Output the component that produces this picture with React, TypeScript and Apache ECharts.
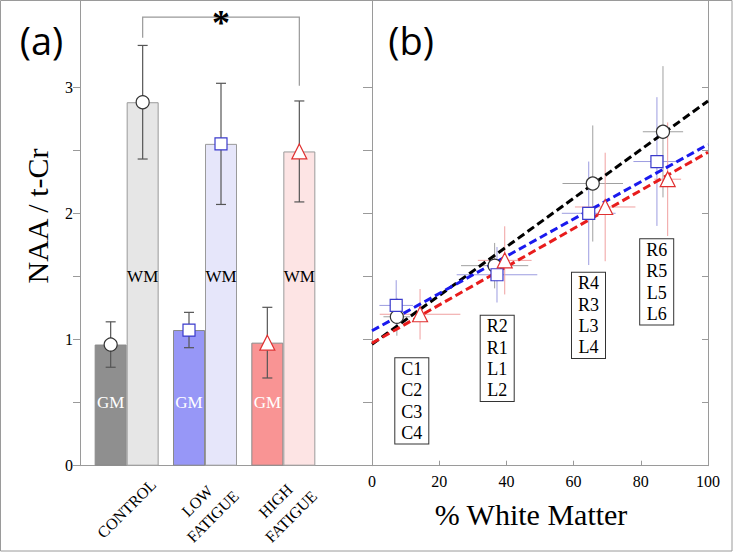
import React, { useEffect, useRef } from 'react';
import * as echarts from 'echarts';

// ---------- Panel (a) data ----------
const groups = ['CONTROL', 'LOW\nFATIGUE', 'HIGH\nFATIGUE'];
const gmMean = [0.96, 1.075, 0.975];
const gmErr = [0.18, 0.14, 0.28];
const wmMean = [2.88, 2.55, 2.49];
const wmErr = [0.45, 0.48, 0.4];
const gmColors = ['#8f8f8f', '#9797f7', '#f99494'];
const wmColors = ['#e6e6e6', '#e6e6fa', '#fde4e4'];
const gmLabelY = 0.5;
const wmLabelY = 1.5;
const bracketTop = 3.555;
const bracketLeftEnd = 3.39;
const bracketRightEnd = 3.01;

// ---------- Axis ticks ----------
const yMax = 3.69;
const yTicks = [0, 0.5, 1, 1.5, 2, 2.5, 3];
const yLabels = [0, 1, 2, 3];
const xMaxB = 100;
const xIntervalB = 20;

// ---------- Panel (b) data ----------
const ctrlX = [7.4, 36.5, 65.7, 86.6];
const ctrlXErr = [4, 10, 9, 6];
const ctrlY = [1.18, 1.585, 2.236, 2.646];
const ctrlYErr = [0.15, 0.18, 0.46, 0.52];

const lowX = [7.2, 37.2, 64.5, 84.8];
const lowXErr = [5, 12, 8, 7];
const lowY = [1.27, 1.513, 2.0, 2.41];
const lowYErr = [0.2, 0.22, 0.41, 0.51];

const highX = [14.3, 39.5, 69.4, 88.0];
const highXErr = [12, 8, 9, 4];
const highY = [1.2, 1.627, 2.05, 2.27];
const highYErr = [0.2, 0.27, 0.43, 0.45];

const ctrlFit = [[0, 0.963], [100, 2.89]];
const lowFit = [[0, 1.069], [100, 2.545]];
const highFit = [[0, 0.971], [100, 2.484]];

const boxLabels = ['C1\nC2\nC3\nC4', 'R2\nR1\nL1\nL2', 'R4\nR3\nL3\nL4', 'R6\nR5\nL5\nL6'];

// ---------- styles ----------
const AXIS = '#9a9a9a';
const SERIF = '"Liberation Serif", "Times New Roman", serif';
const SANS = '"Open Sans", "Noto Sans", sans-serif';
const markerSymbols = ['circle', 'rect', 'triangle'];
const markerSizes = [13, 12, 15];
const markerBorders = ['#333333', '#3a3acc', '#e03030'];
const errColorsB = ['#a0a0a0', '#9c9ce0', '#f0a0a0'];
const fitColors = ['#000000', '#1a1aee', '#e81c1c'];
const BAR_W = 32;
const CAT_LABEL_GAP = 43;

function buildOption() {
  const errBarA = (means: number[], errs: number[], offset: number) => ({
    type: 'custom',
    xAxisIndex: 1,
    yAxisIndex: 1,
    z: 5,
    data: means.map((m, i) => [i, m, errs[i]]),
    encode: { x: 0, y: 1 },
    renderItem: (params: any, api: any) => {
      const i = api.value(0);
      const m = api.value(1);
      const e = api.value(2);
      const t = api.coord([i, m + e]);
      const b = api.coord([i, m - e]);
      const x = t[0] + offset;
      const st = { stroke: '#555555', lineWidth: 1.2 };
      return {
        type: 'group',
        children: [
          { type: 'line', shape: { x1: x, y1: t[1], x2: x, y2: b[1] }, style: st },
          { type: 'line', shape: { x1: x - 5, y1: t[1], x2: x + 5, y2: t[1] }, style: st },
          { type: 'line', shape: { x1: x - 5, y1: b[1], x2: x + 5, y2: b[1] }, style: st },
        ],
      };
    },
  });

  const markersA = (means: number[], offset: number) => ({
    type: 'scatter',
    xAxisIndex: 1,
    yAxisIndex: 1,
    z: 6,
    symbolOffset: [offset, 0],
    data: means.map((m, i) => ({
      value: [i, m],
      symbol: markerSymbols[i],
      symbolSize: markerSizes[i],
      itemStyle: { color: '#ffffff', borderColor: markerBorders[i], borderWidth: 1.2, opacity: 1 },
    })),
  });

  const textA = (labelY: number, text: string, color: string, offset: number) => ({
    type: 'custom',
    xAxisIndex: 1,
    yAxisIndex: 1,
    z: 4,
    data: groups.map((_, i) => [i, labelY]),
    encode: { x: 0, y: 1 },
    renderItem: (params: any, api: any) => {
      const p = api.coord([api.value(0), api.value(1)]);
      return {
        type: 'text',
        x: p[0] + offset,
        y: p[1],
        style: { text, fill: color, font: `17px ${SERIF}`, align: 'center', verticalAlign: 'middle' },
      };
    },
  });

  const catLabels = {
    type: 'custom',
    xAxisIndex: 1,
    yAxisIndex: 1,
    z: 4,
    clip: false,
    data: groups.map((_, i) => [i, 0]),
    encode: { x: 0, y: 1 },
    renderItem: (params: any, api: any) => {
      const i = params.dataIndex;
      const p = api.coord([api.value(0), 0]);
      return {
        type: 'text',
        x: p[0],
        y: p[1] + CAT_LABEL_GAP,
        rotation: Math.PI / 4,
        style: {
          text: groups[i], fill: '#000', font: `16px ${SERIF}`, align: 'center',
          verticalAlign: 'middle', lineHeight: 22,
        },
      };
    },
  };

  const bracket = {
    type: 'custom',
    xAxisIndex: 1,
    yAxisIndex: 1,
    z: 4,
    data: [[0, bracketTop]],
    encode: { x: 0, y: 1 },
    renderItem: (params: any, api: any) => {
      const l = api.coord([0, bracketTop]);
      const r = api.coord([2, bracketTop]);
      const lx = l[0] + BAR_W / 2;
      const rx = r[0] + BAR_W / 2;
      const ly = api.coord([0, bracketLeftEnd])[1];
      const ry = api.coord([2, bracketRightEnd])[1];
      return {
        type: 'group',
        children: [
          {
            type: 'polyline',
            shape: { points: [[lx, ly], [lx, l[1]], [rx, r[1]], [rx, ry]] },
            style: { stroke: '#999999', lineWidth: 1.2, fill: 'none' },
          },
          {
            type: 'text',
            x: (lx + rx) / 2,
            y: l[1] + 6,
            style: { text: '*', fill: '#000', font: `bold 36px ${SERIF}`, align: 'center', verticalAlign: 'middle' },
          },
        ],
      };
    },
  };

  const errBarB = (xs: number[], xe: number[], ys: number[], ye: number[], color: string) => ({
    type: 'custom',
    xAxisIndex: 2,
    yAxisIndex: 2,
    z: 3,
    data: xs.map((x, i) => [x, ys[i], xe[i], ye[i]]),
    encode: { x: 0, y: 1 },
    renderItem: (params: any, api: any) => {
      const x = api.value(0), y = api.value(1), xr = api.value(2), yr = api.value(3);
      const l = api.coord([x - xr, y]);
      const r = api.coord([x + xr, y]);
      const t = api.coord([x, y + yr]);
      const b = api.coord([x, y - yr]);
      const st = { stroke: color, lineWidth: 1 };
      return {
        type: 'group',
        children: [
          { type: 'line', shape: { x1: l[0], y1: l[1], x2: r[0], y2: r[1] }, style: st },
          { type: 'line', shape: { x1: t[0], y1: t[1], x2: b[0], y2: b[1] }, style: st },
        ],
      };
    },
  });

  const fitLine = (pts: number[][], color: string) => ({
    type: 'line',
    xAxisIndex: 2,
    yAxisIndex: 2,
    z: 4,
    symbol: 'none',
    data: pts,
    lineStyle: { color, width: 3, type: [8, 4] },
  });

  const markersB = (xs: number[], ys: number[], k: number) => ({
    type: 'scatter',
    xAxisIndex: 2,
    yAxisIndex: 2,
    z: 6,
    symbol: markerSymbols[k],
    symbolSize: markerSizes[k],
    itemStyle: { color: '#ffffff', borderColor: markerBorders[k], borderWidth: 1.2, opacity: 1 },
    data: xs.map((x, i) => [x, ys[i]]),
  });

  const boxPos = [
    [411.8, 358.3],
    [497.2, 315.7],
    [588.5, 272.7],
    [656.7, 239.3],
  ];

  return {
    animation: false,
    backgroundColor: '#ffffff',
    grid: [
      { left: 80, top: 0, width: 290, bottom: 87.3 },
      { left: 87.5, top: 0, width: 235, bottom: 87.3 },
      { left: 372, top: 0, width: 336, bottom: 87.3 },
    ],
    xAxis: [
      {
        gridIndex: 0, type: 'value', min: 0, max: 1,
        axisLine: { show: true, lineStyle: { color: AXIS, width: 1 } },
        axisTick: { show: false }, axisLabel: { show: false }, splitLine: { show: false },
      },
      {
        gridIndex: 1, type: 'category', data: groups,
        axisLine: { show: false }, axisTick: { show: false }, splitLine: { show: false },
        axisLabel: { show: false },
      },
      {
        gridIndex: 2, type: 'value', min: 0, max: xMaxB, interval: xIntervalB,
        axisLine: { show: true, lineStyle: { color: AXIS, width: 1 } },
        axisTick: { show: true, inside: true, length: 5, lineStyle: { color: AXIS } },
        axisLabel: { color: '#000', fontFamily: SERIF, fontSize: 16, margin: 8 },
        splitLine: { show: false },
      },
    ],
    yAxis: [
      {
        gridIndex: 0, type: 'value', min: 0, max: yMax,
        axisLine: { show: true, lineStyle: { color: AXIS, width: 1 } },
        axisTick: { show: true, inside: false, length: 7, customValues: yTicks, lineStyle: { color: AXIS } },
        axisLabel: { customValues: yLabels, color: '#000', fontFamily: SERIF, fontSize: 16, margin: 7 },
        splitLine: { show: false },
      },
      { gridIndex: 1, type: 'value', min: 0, max: yMax, show: false },
      {
        gridIndex: 2, type: 'value', min: 0, max: yMax, position: 'left',
        axisLine: { show: true, lineStyle: { color: AXIS, width: 1 } },
        axisTick: { show: true, inside: false, length: 9, customValues: yTicks, lineStyle: { color: AXIS } },
        axisLabel: { show: false }, splitLine: { show: false },
      },
      {
        gridIndex: 2, type: 'value', min: 0, max: yMax, position: 'right',
        axisLine: { show: true, lineStyle: { color: AXIS, width: 1 } },
        axisTick: { show: true, inside: true, length: 6, customValues: yTicks, lineStyle: { color: AXIS } },
        axisLabel: { show: false }, splitLine: { show: false },
      },
    ],
    series: [
      {
        type: 'bar', xAxisIndex: 1, yAxisIndex: 1, barWidth: BAR_W, barGap: '0%', z: 2,
        data: gmMean.map((v, i) => ({ value: v, itemStyle: { color: gmColors[i], borderColor: '#8a8a8a', borderWidth: 1 } })),
      },
      {
        type: 'bar', xAxisIndex: 1, yAxisIndex: 1, barWidth: BAR_W, barGap: '0%', z: 2,
        data: wmMean.map((v, i) => ({ value: v, itemStyle: { color: wmColors[i], borderColor: '#9a9a9a', borderWidth: 1 } })),
      },
      errBarA(gmMean, gmErr, -BAR_W / 2),
      errBarA(wmMean, wmErr, BAR_W / 2),
      textA(gmLabelY, 'GM', '#ffffff', -BAR_W / 2),
      textA(wmLabelY, 'WM', '#000000', BAR_W / 2),
      markersA(gmMean, -BAR_W / 2),
      markersA(wmMean, BAR_W / 2),
      bracket,
      catLabels,
      errBarB(ctrlX, ctrlXErr, ctrlY, ctrlYErr, errColorsB[0]),
      errBarB(lowX, lowXErr, lowY, lowYErr, errColorsB[1]),
      errBarB(highX, highXErr, highY, highYErr, errColorsB[2]),
      fitLine(ctrlFit, fitColors[0]),
      fitLine(lowFit, fitColors[1]),
      fitLine(highFit, fitColors[2]),
      markersB(ctrlX, ctrlY, 0),
      markersB(lowX, lowY, 1),
      markersB(highX, highY, 2),
    ],
    graphic: [
      {
        type: 'rect', z: 100, silent: true,
        shape: { x: 0.5, y: 0.5, width: 731.5, height: 550.5 },
        style: { stroke: AXIS, fill: 'none', lineWidth: 1 },
      },
      {
        type: 'text', x: 41.5, y: 40,
        style: { text: '(a)', font: `38px ${SANS}`, fill: '#000', align: 'center', verticalAlign: 'middle' },
      },
      {
        type: 'text', x: 411, y: 40,
        style: { text: '(b)', font: `38px ${SANS}`, fill: '#000', align: 'center', verticalAlign: 'middle' },
      },
      {
        type: 'text', x: 37, y: 216, rotation: Math.PI / 2,
        style: { text: 'NAA / t-Cr', font: `30px ${SERIF}`, fill: '#000', align: 'center', verticalAlign: 'middle' },
      },
      {
        type: 'text', x: 531, y: 514,
        style: { text: '% White Matter', font: `30px ${SERIF}`, fill: '#000', align: 'center', verticalAlign: 'middle' },
      },
      ...boxLabels.map((t, i) => ({
        type: 'text', x: boxPos[i][0], y: boxPos[i][1], z: 50,
        style: {
          text: t, font: `18px ${SERIF}`, fill: '#000', align: 'center', verticalAlign: 'top',
          lineHeight: 21.3, padding: [0, 6, 0, 6], borderColor: '#333', borderWidth: 1, backgroundColor: '#fff',
        },
      })),
    ],
  };
}

export default function App() {
  const ref = useRef<HTMLDivElement>(null);
  useEffect(() => {
    document.body.style.margin = '0';
    const chart = echarts.init(ref.current!, null, { renderer: 'svg' });
    chart.setOption(buildOption() as any);
    return () => chart.dispose();
  }, []);
  return <div ref={ref} style={{ width: 733, height: 553 }} />;
}
